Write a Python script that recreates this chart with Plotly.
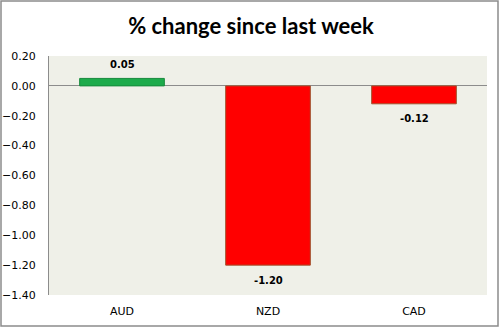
import plotly.graph_objects as go

categories = ["AUD", "NZD", "CAD"]
values = [0.05, -1.20, -0.12]
value_labels = ["0.05", "-1.20", "-0.12"]
tick_vals = [0.2, 0.0, -0.2, -0.4, -0.6, -0.8, -1.0, -1.2, -1.4]

W, H = 502, 328
L, R, T, B = 49, 15, 56, 33
PW, PH = W - L - R, H - T - B

colors = ["#1DAB4B" if v >= 0 else "#FF0000" for v in values]
outlines = ["#178A3C" if v >= 0 else "#A0522D" for v in values]

fig = go.Figure()
fig.add_trace(go.Bar(
    x=categories, y=values, width=0.58,
    marker=dict(color=colors, line=dict(color=outlines, width=1)),
    hoverinfo="skip",
))

for c, v, lab in zip(categories, values, value_labels):
    fig.add_annotation(
        x=c, y=v, text="<b>" + lab + "</b>", showarrow=False,
        yanchor="middle", yshift=14 if v >= 0 else -15,
        font=dict(family="DejaVu Sans", size=10, color="#000000"),
    )

def px_x(p):
    return (p - L) / PW

def px_y(p):
    return (H - B - p) / PH

fig.add_shape(type="rect", xref="paper", yref="paper",
              x0=px_x(1), x1=px_x(498), y0=px_y(326), y1=px_y(1),
              line=dict(color="#8C8C8C", width=1.5), fillcolor="rgba(0,0,0,0)",
              layer="above")

fig.update_layout(
    width=W, height=H,
    margin=dict(l=L, r=R, t=T, b=B, autoexpand=False),
    paper_bgcolor="#FFFFFF",
    plot_bgcolor="#EFF0E8",
    showlegend=False,
    title=dict(text="<b>% change since last week</b>", x=0.5, xref="container",
               xanchor="center", y=1 - 26 / H, yanchor="middle",
               font=dict(family="Lato", size=22, color="#000000")),
    font=dict(family="DejaVu Sans", size=11, color="#000000"),
)
fig.update_xaxes(showgrid=False, showline=False, ticks="", automargin=False,
                 tickfont=dict(family="DejaVu Sans", size=11), ticklabelstandoff=8,
                 zeroline=False)
fig.update_yaxes(range=[-1.4, 0.2], tickvals=tick_vals, tickformat=".2f",
                 automargin=False,
                 showgrid=False, showline=True, linecolor="#8C8C8C", linewidth=1,
                 zeroline=True, zerolinecolor="#8C8C8C", zerolinewidth=1,
                 ticks="", ticklabelstandoff=10,
                 tickfont=dict(family="DejaVu Sans", size=11))

fig.write_html("out.html")
